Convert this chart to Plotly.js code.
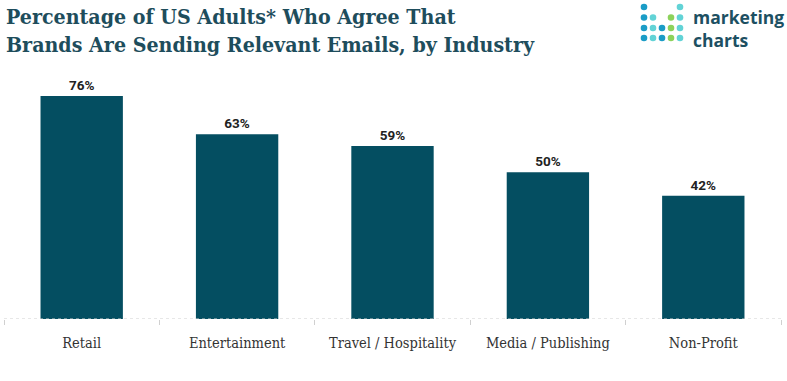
<!DOCTYPE html>
<html>
<head>
<meta charset="utf-8">
<script src="https://cdn.plot.ly/plotly-3.0.1.min.js"></script>
<style>html,body{margin:0;padding:0;background:#fff;}#chart{width:787px;height:381px;}</style>
</head>
<body>
<div id="chart"></div>
<script>
const categories = ["Retail", "Entertainment", "Travel / Hospitality", "Media / Publishing", "Non-Profit"];
const values = [76, 63, 59, 50, 42];
const valueLabels = ["76%", "63%", "59%", "50%", "42%"];

const titleText = "Percentage of US Adults* Who Agree That<br>Brands Are Sending Relevant Emails, by Industry";

// logo dots: [col, row, color]
const dotX = [644, 653, 662, 671, 680];
const dotY = [7, 17.5, 28, 38];
const BLUE = "#1a9cc6", CYAN = "#62d3d6", GREEN = "#8cd25b";
const logoDots = [
  [0,0,BLUE],[4,0,CYAN],
  [0,1,BLUE],[1,1,CYAN],[3,1,GREEN],[4,1,CYAN],
  [0,2,BLUE],[1,2,CYAN],[2,2,BLUE],[3,2,GREEN],[4,2,CYAN],
  [0,3,BLUE],[1,3,CYAN],[2,3,BLUE],[3,3,GREEN],[4,3,CYAN]
];
const W = 787, H = 381, R = 3.3;
const ml = 4, mr = 6, mt = 55, mb = 62;
const pw = W - ml - mr, ph = H - mt - mb;
const px = x => (x - ml) / pw;
const py = y => (H - mb - y) / ph;
const logoShapes = logoDots.map(d => ({
  type: "circle", xref: "paper", yref: "paper",
  x0: px(dotX[d[0]] - R), x1: px(dotX[d[0]] + R),
  y0: py(dotY[d[1]] + R), y1: py(dotY[d[1]] - R),
  fillcolor: d[2], line: {width: 0}
}));

const trace = {
  type: "bar",
  x: categories,
  y: values,
  text: valueLabels,
  textposition: "outside",
  cliponaxis: false,
  textfont: {family: "Roboto, 'Liberation Sans', sans-serif", size: 13.5, color: "#222", weight: 700},
  marker: {color: "#044e61", line: {width: 0}},
  width: 0.53,
  hoverinfo: "skip"
};

const layout = {
  width: W, height: H,
  margin: {l: ml, r: mr, t: mt, b: mb},
  paper_bgcolor: "#fff", plot_bgcolor: "#fff",
  showlegend: false,
  xaxis: {
    type: "category",
    tickson: "boundaries",
    ticks: "outside", ticklen: 5, tickcolor: "#d0d0d0", tickwidth: 1,
    showline: false, showgrid: false, zeroline: false,
    tickfont: {family: "'DejaVu Serif Condensed', 'DejaVu Serif', serif", size: 14.5, color: "#333"},
    ticklabelstandoff: 13,
    fixedrange: true
  },
  yaxis: {
    range: [0, 90],
    visible: false,
    showgrid: false, zeroline: false,
    fixedrange: true
  },
  shapes: [
    {type: "line", xref: "paper", yref: "y", x0: 0, x1: 1, y0: 0, y1: 0,
     line: {color: "#cfcfcf", width: 1, dash: "dot"}, layer: "above"}
  ].concat(logoShapes),
  annotations: [
    {xref: "paper", yref: "paper", x: px(4), y: py(1.5), xanchor: "left", yanchor: "top",
     text: titleText, showarrow: false, align: "left",
     font: {family: "'DejaVu Serif Condensed', 'DejaVu Serif', serif", size: 21.2, color: "#1e4d5c", weight: 700}},
    {xref: "paper", yref: "paper", x: px(691), y: py(3), xanchor: "left", yanchor: "top",
     text: "marketing<br>charts", showarrow: false, align: "left",
     font: {family: "'Open Sans', 'Noto Sans', sans-serif", size: 17.5, color: "#1d5062", weight: 700}}
  ]
};

Plotly.newPlot("chart", [trace], layout, {displayModeBar: false, staticPlot: true});
</script>
</body>
</html>
